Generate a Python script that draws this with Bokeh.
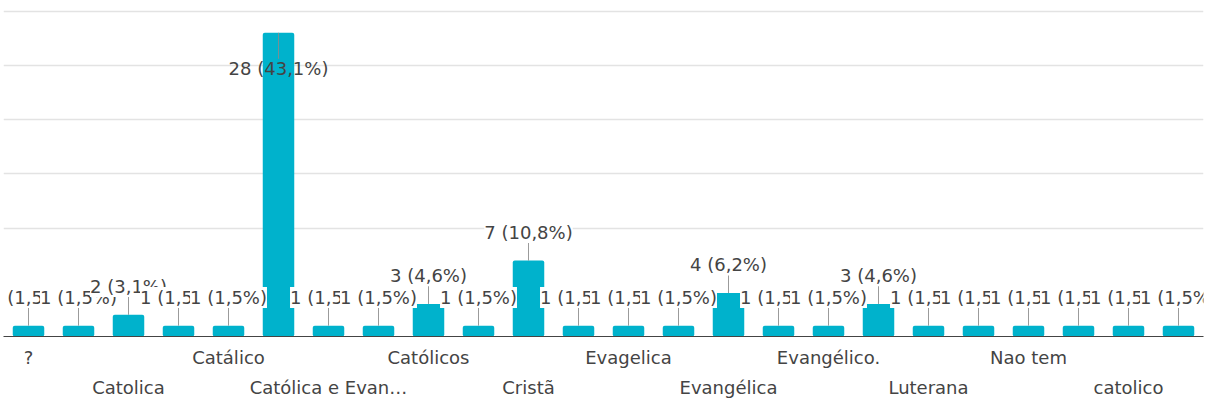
from bokeh.plotting import figure
from bokeh.models import Range1d, FixedTicker, LinearAxis, ColumnDataSource
from bokeh.embed import file_html
from bokeh.resources import INLINE
from bokeh.core.properties import value

# ---- data ----
categories = ["?", "Ateu", "Catolica", "Catolico", "Catálico", "Católica",
              "Católica e Evan…", "Católico", "Católicos", "Cristianismo", "Cristã",
              "Espírita", "Evagelica", "Evangelica", "Evangélica", "Evangélico",
              "Evangélico.", "Evangélicos", "Luterana", "Mórmon", "Nao tem",
              "Nenhuma", "catolico", "evangélica"]
counts = [1, 1, 2, 1, 1, 28, 1, 1, 3, 1, 7, 1, 1, 1, 4, 1, 1, 3, 1, 1, 1, 1, 1, 1]
grid_ticks = [10, 15, 20, 25, 30]
y_max = 30

BAR = "#00b2cc"
TXT = "#444444"
FONT = "DejaVu Sans"

n = len(categories)
total = sum(counts)
xs = list(range(n))
labels = [f"{c} ({100.0 * c / total:.1f}%)".replace(".", ",") for c in counts]

# label placement: above the bar, or inside when there is no room
above, inside, half = 2.6, 3.3, 0.9
ly, lend, bg = [], [], []
for c in counts:
    if c + above + 1.0 > y_max:
        ly.append(c - inside)
        lend.append(c - inside + half)
        bg.append(0.0)
    else:
        ly.append(c + above)
        lend.append(c + above - half)
        bg.append(1.0)

src = ColumnDataSource(dict(x=xs, v=counts, label=labels, ly=ly, lend=lend, bg=bg))

row1 = list(range(0, n, 4))
row2 = list(range(2, n, 4))

p = figure(width=1205, height=401, output_backend="svg", toolbar_location=None,
           x_range=Range1d(-0.5, n - 0.5), y_range=Range1d(0, y_max + 0.15),
           y_axis_location=None, min_border_left=3, min_border_right=2,
           min_border_top=9, min_border_bottom=65)
p.outline_line_color = None
p.background_fill_color = "white"
p.border_fill_color = "white"

p.xgrid.grid_line_color = None
p.ygrid.ticker = FixedTicker(ticks=grid_ticks)
p.ygrid.grid_line_color = "#e3e3e3"
p.ygrid.grid_line_width = 1.5

p.vbar(x="x", top="v", width=0.63, source=src, fill_color=BAR, line_color=None,
       border_radius=2)
p.segment(x0="x", y0="v", x1="x", y1="lend", source=src,
          line_color="#8a8a8a", line_width=1, line_alpha=0.85)
p.text(x="x", y="ly", text="label", source=src, text_align="center",
       text_baseline="middle", text_font=value(FONT), text_font_size="18px",
       text_color=TXT, background_fill_color="white", background_fill_alpha="bg")

def style_axis(ax, ticks, standoff, line_color):
    ax.ticker = FixedTicker(ticks=ticks)
    ax.major_label_overrides = {i: categories[i] for i in ticks}
    ax.major_tick_line_color = None
    ax.minor_tick_line_color = None
    ax.major_tick_out = 0
    ax.major_tick_in = 0
    ax.axis_line_color = line_color
    ax.major_label_standoff = standoff
    ax.major_label_text_font = FONT
    ax.major_label_text_font_size = "18px"
    ax.major_label_text_color = TXT

ax1 = p.xaxis[0]
style_axis(ax1, row1, 10, "#444444")
ax1.axis_line_width = 1.2

ax2 = LinearAxis()
style_axis(ax2, row2, 6, None)
p.add_layout(ax2, "below")

open("out.html", "w").write(file_html(p, INLINE))
